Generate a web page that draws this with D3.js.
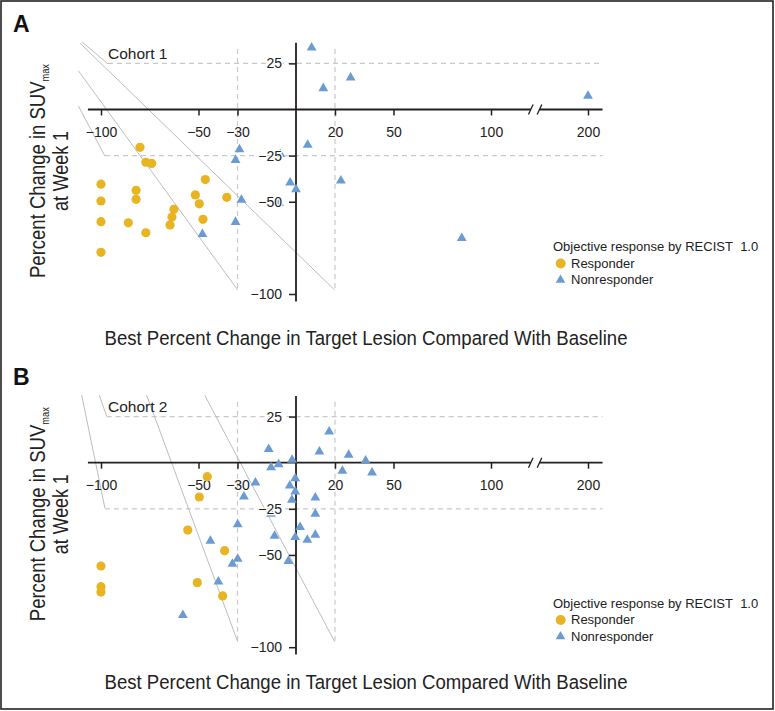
<!DOCTYPE html>
<html><head><meta charset="utf-8">
<script src="https://cdn.jsdelivr.net/npm/d3@7"></script>
<style>
body{margin:0;background:#fff}
svg{display:block}
.tick text{font-family:"Liberation Sans",Arial,sans-serif;font-size:14px;fill:#222}
</style>
</head><body>
<svg id="chart" width="775" height="711"></svg>
<script>
// ---------------- data ----------------
const xTickValues = [-100, -50, -30, 20, 50, 100, 200];
const yTickValues = [25, -25, -50, -100];
const refXValues = [-30, 20];           // vertical dashed reference lines
const refYValues = [25, -25];           // horizontal dashed reference lines
const axisBreak = [141, 150];           // broken x axis between these values

const cohortNames = ["Cohort 1", "Cohort 2"];
const panelLetters = ["A", "B"];

// [best % change in target lesion, % change in SUVmax at week 1]
const cohort1Responders = [
  [-80,-20.5],[-77,-28.6],[-74,-29.2],[-100,-40.5],[-82,-43.8],[-82,-48.7],
  [-100,-49.6],[-100,-60.8],[-86,-61.4],[-77,-66.8],[-100,-77.4],[-62.6,-54.1],
  [-63.6,-58.3],[-64.6,-62.6],[-51.6,-46.3],[-49.6,-51.1],[-47.7,-59.5],
  [-46.5,-38],[-35.5,-47.6]
];
const cohort1Nonresponders = [
  [-29,-21.6],[-31,-27.4],[-28,-49],[-31,-61],[-48,-67.6],[-8,-24.2],[-3,-39.7],
  [0,-43.3],[-8.7,-50.7],[6,-19.2],[8,33.5],[14,11.5],[28,17.2],[200,7.3],
  [23,-38.6],[85,-69.8]
];
const cohort2Responders = [
  [-45.5,-7.6],[-49.6,-18.6],[-55.5,-36.5],[-36.6,-47.7],[-100,-56],
  [-100,-67.2],[-100,-70.1],[-50.6,-65],[-37.6,-72.2]
];
const cohort2Nonresponders = [
  [-14,7.3],[-12.8,-2.5],[-8.9,-0.9],[-2,1.5],[12,6],[17,16.8],[27,4.2],
  [35.7,1.1],[23.8,-4.5],[39,-5.4],[-20.8,-10.8],[-26.7,-18.4],[-0.4,-8.5],
  [-3.2,-12.5],[-0.4,-15.7],[-2.1,-20.2],[9.9,-19],[9.9,-27.8],[-12.8,-27.8],
  [-29.9,-33.4],[2.1,-35],[-11,-39.7],[-0.4,-40.4],[5.8,-41.9],[9.9,-39.2],
  [-43.9,-42.4],[-29.9,-52.2],[-32.6,-54.9],[-3.9,-53.3],[-39.8,-64.5],[-58,-82.7]
];
// oblique guide lines (start, end) in data units
const cohort1Guides = [
  [[-111.6,1.9],[-98,-25.2]],
  [[-109.7,36.6],[-96.4,24.7]],
  [[-111.6,21],[-29.9,-97.8]],
  [[-110.8,36],[19.8,-97.8]]
];
const cohort2Guides = [
  [[-109.9,36.6],[-98,-24.6]],
  [[-100.9,36.6],[-97.1,25.3]],
  [[-76.6,36.6],[-29.9,-97]],
  [[-46.8,36.6],[19.8,-97]]
];
const legendTitle = "Objective response by RECIST\u00a0 1.0";
const legendLabels = ["Responder", "Nonresponder"];
const xTitle = "Best Percent Change in Target Lesion Compared With Baseline";

// ---------------- styles / layout ----------------
const YELLOW = "#e8b421", BLUE = "#6b9bd3", AXIS = "#231f20";
const TITLE_FONT = '"Liberation Sans Narrow","Liberation Sans",Arial,sans-serif';
const BODY_FONT = '"Liberation Sans",Arial,sans-serif';

const svg = d3.select("#chart");
svg.append("rect").attr("x",1).attr("y",1).attr("width",772).attr("height",708)
  .attr("fill","none").attr("stroke","#222").attr("stroke-width",1.6);

const x = d3.scaleLinear().domain([-100, 0, 100, 200]).range([101, 296, 491, 588]);
const y = d3.scaleLinear().domain([-100, 0]).range([294, 109.5]);

const panels = [
  {offset:0, resp:cohort1Responders, non:cohort1Nonresponders, guides:cohort1Guides,
   yTitleC:171, xTitleBase:345, legendTop:251, refTop:32.8, refBottom:-97.8, refStart:[-96.4,-98]},
  {offset:353.2, resp:cohort2Responders, non:cohort2Nonresponders, guides:cohort2Guides,
   yTitleC:161, xTitleBase:336, legendTop:254.3, refTop:33, refBottom:-97, refStart:[-97.1,-98]}
];

const tri = d3.symbol().type(d3.symbolTriangle).size(42);

panels.forEach((p, i) => {
  const g = svg.append("g").attr("transform", `translate(0,${p.offset})`);

  // panel letter
  g.append("text").attr("x",13).attr("y",32).text(panelLetters[i])
    .attr("font-family",BODY_FONT).attr("font-weight","bold").attr("font-size",23).attr("fill","#111");

  // dashed reference lines
  refYValues.forEach((v, k) => {
    g.append("line").attr("x1",x(p.refStart[k])).attr("x2",x(215))
      .attr("y1",y(v)).attr("y2",y(v))
      .attr("stroke","#c9c9c9").attr("stroke-width",1.2).attr("stroke-dasharray","5,4");
  });
  refXValues.forEach(v => {
    g.append("line").attr("x1",x(v)).attr("x2",x(v))
      .attr("y1",y(p.refTop)).attr("y2",y(p.refBottom))
      .attr("stroke","#c9c9c9").attr("stroke-width",1.2).attr("stroke-dasharray","5,4");
  });

  // oblique guides
  g.selectAll(".guide").data(p.guides).join("line").attr("class","guide")
    .attr("x1",d=>x(d[0][0])).attr("y1",d=>y(d[0][1]))
    .attr("x2",d=>x(d[1][0])).attr("y2",d=>y(d[1][1]))
    .attr("stroke","#bdbdbd").attr("stroke-width",1);

  // cohort label
  g.append("text").attr("x",108).attr("y",59).text(cohortNames[i])
    .attr("font-family",TITLE_FONT).attr("font-size",15.5).attr("fill","#222");

  // x axis (ticks + labels)
  const xAxis = d3.axisBottom(x).tickValues(xTickValues).tickFormat(d3.format("d"))
    .tickSize(6).tickPadding(11.5);
  const gx = g.append("g").attr("transform",`translate(0,${y(0)})`).call(xAxis);
  gx.select(".domain").remove();
  gx.selectAll(".tick line").attr("stroke",AXIS).attr("stroke-width",1.5);

  // x axis line with break
  g.append("line").attr("x1",x(-106.7)).attr("x2",x(axisBreak[0])).attr("y1",y(0)).attr("y2",y(0))
    .attr("stroke",AXIS).attr("stroke-width",1.8);
  g.append("line").attr("x1",x(axisBreak[1])).attr("x2",x(215)).attr("y1",y(0)).attr("y2",y(0))
    .attr("stroke",AXIS).attr("stroke-width",1.8);
  axisBreak.forEach(v => {
    g.append("line").attr("x1",x(v)-2.3).attr("x2",x(v)+2.3)
      .attr("y1",y(0)+5).attr("y2",y(0)-5).attr("stroke",AXIS).attr("stroke-width",1.3);
  });

  // y axis line
  g.append("line").attr("x1",x(0)).attr("x2",x(0)).attr("y1",y(36.2)).attr("y2",y(-104))
    .attr("stroke",AXIS).attr("stroke-width",1.8);

  // points
  g.selectAll(".resp").data(p.resp).join("circle").attr("class","resp")
    .attr("cx",d=>x(d[0])).attr("cy",d=>y(d[1])).attr("r",4.6).attr("fill",YELLOW);
  g.selectAll(".non").data(p.non).join("path").attr("class","non")
    .attr("d",tri).attr("transform",d=>`translate(${x(d[0])},${y(d[1])})`).attr("fill",BLUE);

  // y axis (ticks + labels) on top
  const yAxis = d3.axisLeft(y).tickValues(yTickValues).tickFormat(d3.format("d"))
    .tickSize(7).tickPadding(7);
  const gy = g.append("g").attr("transform",`translate(${x(0)},0)`).call(yAxis);
  gy.select(".domain").remove();
  gy.selectAll(".tick line").attr("stroke",AXIS).attr("stroke-width",1.5);
  gy.selectAll(".tick text").attr("stroke","#fff").attr("stroke-width",2.5)
    .attr("paint-order","stroke").attr("stroke-linejoin","round");

  // y title
  const t1 = g.append("text").attr("transform",`translate(45,${p.yTitleC}) rotate(-90)`)
    .attr("text-anchor","middle").attr("font-family",TITLE_FONT).attr("font-size",22)
    .attr("fill","#222").attr("textLength",214).attr("lengthAdjust","spacingAndGlyphs");
  t1.append("tspan").text("Percent Change in SUV");
  t1.append("tspan").attr("font-size",11).attr("dy",4).text("max");
  g.append("text").attr("transform",`translate(68,${p.yTitleC}) rotate(-90)`)
    .attr("text-anchor","middle").attr("font-family",TITLE_FONT).attr("font-size",22)
    .attr("fill","#222").attr("textLength",80).attr("lengthAdjust","spacingAndGlyphs")
    .text("at Week 1");

  // x title
  g.append("text").attr("x",366).attr("y",p.xTitleBase).attr("text-anchor","middle")
    .attr("font-family",TITLE_FONT).attr("font-size",20.5).attr("fill","#222")
    .attr("textLength",523).attr("lengthAdjust","spacingAndGlyphs").text(xTitle);

  // legend
  const lg = g.append("g").attr("transform",`translate(553,${p.legendTop})`)
    .attr("font-family",BODY_FONT).attr("font-size",13).attr("fill","#222");
  lg.append("text").attr("x",0).attr("y",0).text(legendTitle);
  lg.append("circle").attr("cx",7.7).attr("cy",12.5).attr("r",5).attr("fill",YELLOW);
  lg.append("text").attr("x",18).attr("y",16.5).text(legendLabels[0]);
  lg.append("path").attr("d",d3.symbol().type(d3.symbolTriangle).size(40)())
    .attr("transform","translate(7.5,29)").attr("fill",BLUE);
  lg.append("text").attr("x",18).attr("y",33).text(legendLabels[1]);
});
</script>
</body></html>
